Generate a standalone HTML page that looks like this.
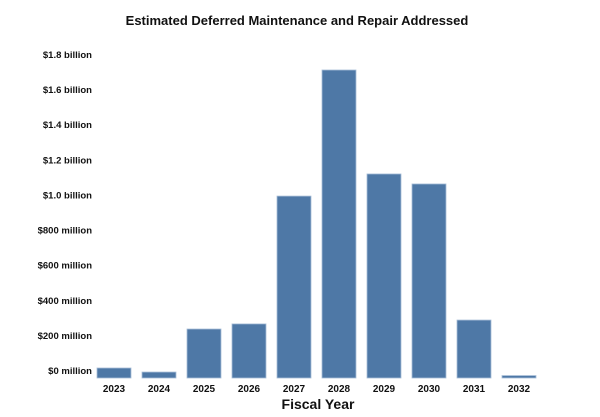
<!DOCTYPE html>
<html><head><meta charset="utf-8"><style>
body{margin:0;background:#fff;}
svg{display:block;font-family:"Liberation Sans",Arial,sans-serif;}
</style></head><body>
<svg id="chart" width="600" height="417">
<text x="297" y="25" text-anchor="middle" font-size="13" font-weight="bold" fill="#111">Estimated Deferred  Maintenance and Repair Addressed</text>
<g id="yaxis"></g>
<g id="bars"></g>
<g id="xaxis"></g>
<text x="318" y="409" text-anchor="middle" font-size="14" font-weight="bold" fill="#111">Fiscal Year</text>
</svg>
<script>
const categories=["2023","2024","2025","2026","2027","2028","2029","2030","2031","2032"];
const values=[57,34,279,308,1036,1754,1162,1105,330,14];
const tickValues=[0,200,400,600,800,1000,1200,1400,1600,1800];
const tickLabels=["$0 million","$200 million","$400 million","$600 million","$800 million","$1.0 billion","$1.2 billion","$1.4 billion","$1.6 billion","$1.8 billion"];
const NS="http://www.w3.org/2000/svg";
const base=378, pxPer=0.1756;
function y(v){return base-v*pxPer;}
function x(i){return 97+i*45;}
const bw=34;
const ya=document.getElementById('yaxis');
tickValues.forEach((v,i)=>{
 const t=document.createElementNS(NS,'text');
 t.setAttribute('x',92);t.setAttribute('y',y(v)-4);
 t.setAttribute('text-anchor','end');t.setAttribute('font-size','9.5');t.setAttribute('font-weight','bold');t.setAttribute('fill','#111');
 t.textContent=tickLabels[i];
 
 
 ya.appendChild(t);
});
const bg=document.getElementById('bars'),xa=document.getElementById('xaxis');
categories.forEach((c,i)=>{
 const r=document.createElementNS(NS,'rect');
 r.setAttribute('x',x(i));r.setAttribute('y',y(values[i]));r.setAttribute('width',bw);r.setAttribute('height',base-y(values[i]));
 r.setAttribute('fill','#4e78a6');r.setAttribute('stroke','#a9bfd8');r.setAttribute('stroke-width','0.8');
 
 
 bg.appendChild(r);
 const t=document.createElementNS(NS,'text');
 t.setAttribute('x',x(i)+bw/2);t.setAttribute('y',392);t.setAttribute('text-anchor','middle');
 t.setAttribute('font-size','10');t.setAttribute('font-weight','bold');t.setAttribute('fill','#111');
 t.textContent=c;
 
 
 xa.appendChild(t);
});
</script>
</body></html>
